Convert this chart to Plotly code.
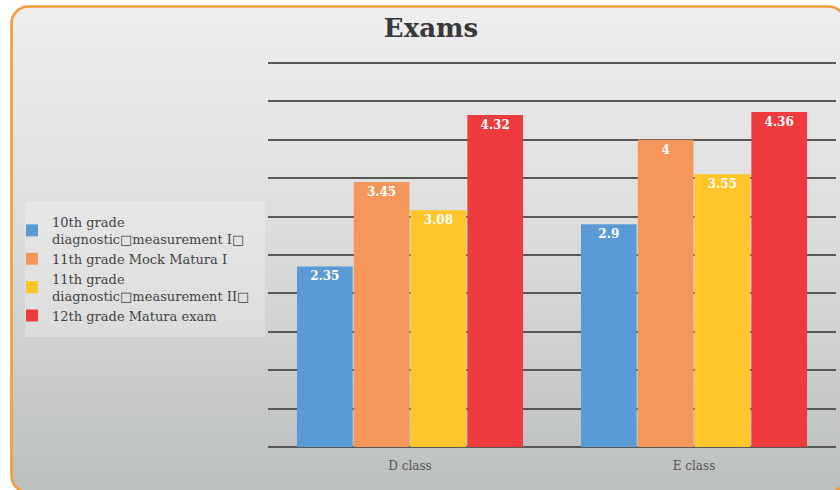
import base64
import plotly.graph_objects as go

# Exam averages per class
classes = ["D class", "E class"]
series_names = [
    "10th grade<br>diagnostic\u25a1measurement I\u25a1",
    "11th grade Mock Matura I",
    "11th grade<br>diagnostic\u25a1measurement II\u25a1",
    "12th grade Matura exam",
]
grade10_diag = [2.35, 2.9]
grade11_mock = [3.45, 4]
grade11_diag = [3.08, 3.55]
grade12_matura = [4.32, 4.36]
series_values = [grade10_diag, grade11_mock, grade11_diag, grade12_matura]
series_colors = ["#5B9BD5", "#F5975A", "#FFC629", "#EE3B3D"]

W, H = 840, 490
L, R, T, B = 268, 4, 59, 43
plot_w = W - L - R
plot_h = H - T - B

fig = go.Figure()
for name, vals, col in zip(series_names, series_values, series_colors):
    fig.add_trace(go.Bar(
        x=classes, y=vals, name=name,
        marker=dict(color=col, line=dict(width=0)),
        text=[f"{v:g}" for v in vals],
        textposition="inside", insidetextanchor="end", textangle=0,
        textfont=dict(family="DejaVu Serif", size=12, color="white", weight="bold"),
        hoverinfo="skip",
    ))

# Card background: rounded orange frame with a soft vertical gray gradient,
# plus the faint lighter panel behind the legend
svg = f"""<svg xmlns='http://www.w3.org/2000/svg' width='{W}' height='{H}' viewBox='0 0 {W} {H}'>
<defs><linearGradient id='g' x1='0' y1='0' x2='0' y2='1'>
<stop offset='0' stop-color='#EEEEEE'/>
<stop offset='0.45' stop-color='#DDDDDD'/>
<stop offset='1' stop-color='#BCBFBF'/>
</linearGradient></defs>
<rect x='0' y='0' width='{W}' height='{H}' fill='white'/>
<rect x='11.5' y='6.5' width='834' height='486' rx='17' ry='17' fill='url(#g)' stroke='#F29C3A' stroke-width='2.6'/>
<rect x='25' y='201' width='240' height='136' fill='#F4F4F4' fill-opacity='0.35'/>
</svg>"""
src = "data:image/svg+xml;base64," + base64.b64encode(svg.encode()).decode()

fig.add_layout_image(dict(
    source=src, xref="paper", yref="paper",
    x=-L / plot_w, y=1 + T / plot_h,
    sizex=W / plot_w, sizey=H / plot_h,
    xanchor="left", yanchor="top", sizing="stretch", layer="below",
))

fig.update_layout(
    width=W, height=H,
    margin=dict(l=L, r=R, t=T, b=B),
    paper_bgcolor="white", plot_bgcolor="rgba(0,0,0,0)",
    barmode="group", bargap=0.2, bargroupgap=0.02,
    title=dict(text="<b>Exams</b>", x=431 / W, xref="container", xanchor="center",
               y=1 - 28 / H, yref="container", yanchor="middle",
               font=dict(family="DejaVu Serif", size=26, color="#383838")),
    legend=dict(
        xref="container", yref="container", x=12 / W, y=1 - 207 / H,
        xanchor="left", yanchor="top",
        bgcolor="rgba(0,0,0,0)",
        font=dict(family="DejaVu Serif", size=13, color="#444444"),
        tracegroupgap=2, itemwidth=30,
    ),
    showlegend=True,
)
fig.update_xaxes(
    showgrid=False, showline=False, ticks="", ticklabelstandoff=10,
    tickfont=dict(family="DejaVu Serif", size=12, color="#555555"),
)
fig.update_yaxes(
    range=[0, 5.05], tick0=0, dtick=0.5, showticklabels=False, ticks="",
    showgrid=True, gridcolor="#585858", gridwidth=2,
    zeroline=True, zerolinecolor="#585858", zerolinewidth=2,
)

fig.write_html("out.html")
